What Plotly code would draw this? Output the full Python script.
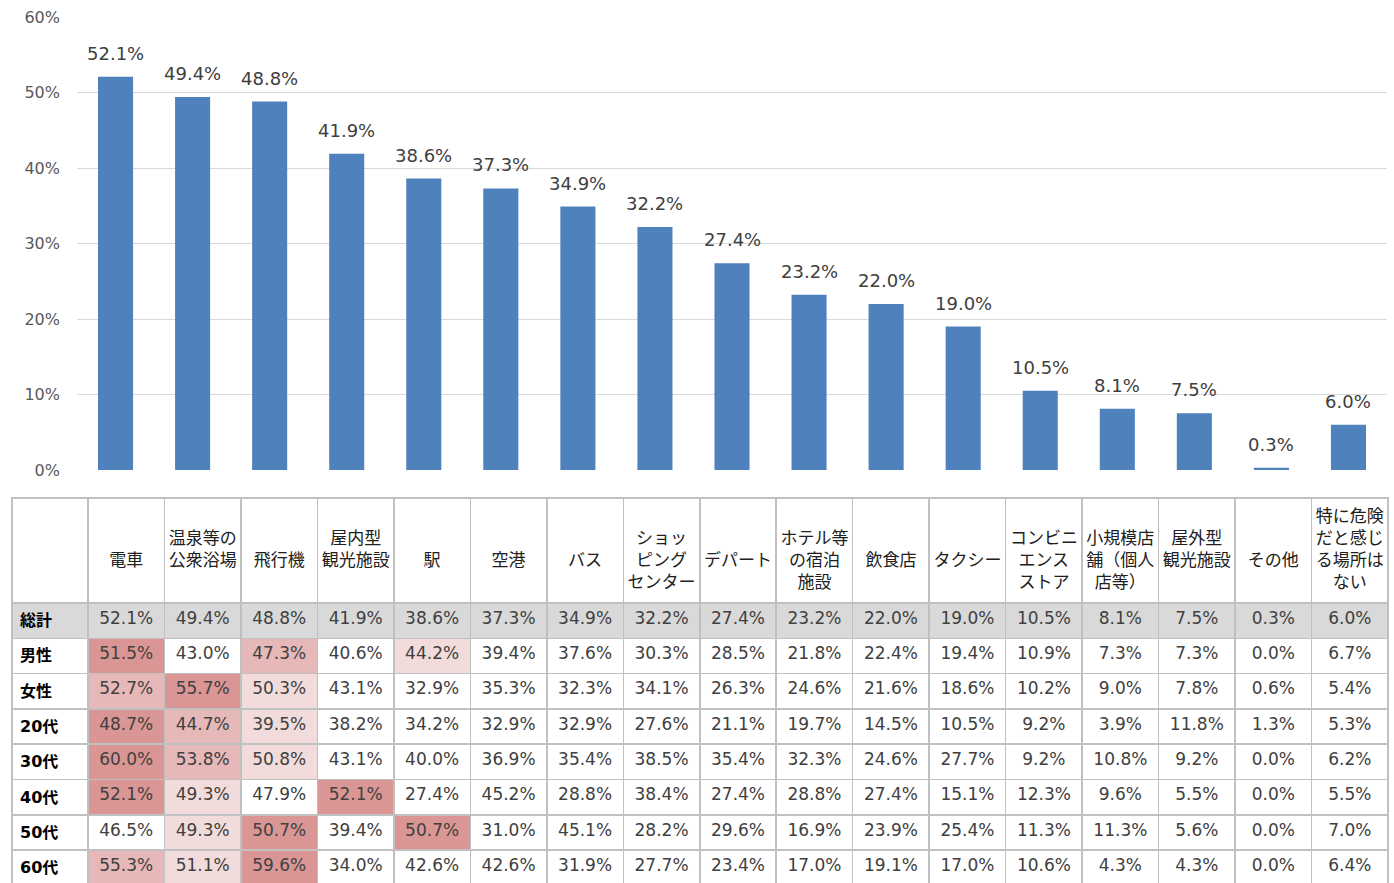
import plotly.graph_objects as go

# ---- data ----
header_lines = [["電車"], ["温泉等の", "公衆浴場"], ["飛行機"], ["屋内型", "観光施設"], ["駅"], ["空港"],
                ["バス"], ["ショッ", "ピング", "センター"], ["デパート"], ["ホテル等", "の宿泊", "施設"],
                ["飲食店"], ["タクシー"], ["コンビニ", "エンス", "ストア"], ["小規模店", "舗（個人", "店等）"],
                ["屋外型", "観光施設"], ["その他"], ["特に危険", "だと感じ", "る場所は", "ない"]]
categories = ["".join(l) for l in header_lines]

total = [52.1, 49.4, 48.8, 41.9, 38.6, 37.3, 34.9, 32.2, 27.4, 23.2, 22.0, 19.0, 10.5, 8.1, 7.5, 0.3, 6.0]

row_labels = ["総計", "男性", "女性", "20代", "30代", "40代", "50代", "60代"]
male = [51.5, 43.0, 47.3, 40.6, 44.2, 39.4, 37.6, 30.3, 28.5, 21.8, 22.4, 19.4, 10.9, 7.3, 7.3, 0.0, 6.7]
female = [52.7, 55.7, 50.3, 43.1, 32.9, 35.3, 32.3, 34.1, 26.3, 24.6, 21.6, 18.6, 10.2, 9.0, 7.8, 0.6, 5.4]
age20 = [48.7, 44.7, 39.5, 38.2, 34.2, 32.9, 32.9, 27.6, 21.1, 19.7, 14.5, 10.5, 9.2, 3.9, 11.8, 1.3, 5.3]
age30 = [60.0, 53.8, 50.8, 43.1, 40.0, 36.9, 35.4, 38.5, 35.4, 32.3, 24.6, 27.7, 9.2, 10.8, 9.2, 0.0, 6.2]
age40 = [52.1, 49.3, 47.9, 52.1, 27.4, 45.2, 28.8, 38.4, 27.4, 28.8, 27.4, 15.1, 12.3, 9.6, 5.5, 0.0, 5.5]
age50 = [46.5, 49.3, 50.7, 39.4, 50.7, 31.0, 45.1, 28.2, 29.6, 16.9, 23.9, 25.4, 11.3, 11.3, 5.6, 0.0, 7.0]
age60 = [55.3, 51.1, 59.6, 34.0, 42.6, 42.6, 31.9, 27.7, 23.4, 17.0, 19.1, 17.0, 10.6, 4.3, 4.3, 0.0, 6.4]

table_rows = [total, male, female, age20, age30, age40, age50, age60]

# ---- styles ----
FONT = "DejaVu Sans, Noto Sans CJK JP, sans-serif"
BAR_COLOR = "#4F81BD"
TOTAL_FILL = "#D9D9D9"
RANK_FILLS = {1: "#DA9694", 2: "#E6B8B7", 3: "#F2DCDB"}
LINE_COLOR = "#C0C0C0"
EN_SPACE = "\u2002"

# per-row highlight of the top 3 values (ties share rank)
def row_fills(vals, is_total):
    if is_total:
        return [TOTAL_FILL] * len(vals)
    out = []
    for v in vals:
        rank = 1 + sum(1 for w in vals if w > v)
        out.append(RANK_FILLS.get(rank, "white"))
    return out

fills_by_row = [row_fills(r, i == 0) for i, r in enumerate(table_rows)]

# header texts: centre each line (table draws lines left-aligned) and pad
# vertically (table text is top aligned)
max_lines = max(len(l) for l in header_lines)
def pad_header(lines):
    width = max(len(s) for s in lines)
    centred = [EN_SPACE * (width - len(s)) + s for s in lines]
    n = (max_lines - len(lines) + 1) // 2
    return "<br>".join([" "] * n + centred)

header_vals = [""] + [pad_header(l) for l in header_lines]

# columns for table
col_values = [[f"<b>{lab}</b>" for lab in row_labels]]
col_fills = [[TOTAL_FILL] + ["white"] * (len(row_labels) - 1)]
col_fontcolors = [["#000000"] * len(row_labels)]
col_fontsizes = [16]
col_align = ["left"] + ["center"] * len(categories)
for j in range(len(categories)):
    col_values.append([f"{r[j]:.1f}%" for r in table_rows])
    col_fills.append([fills_by_row[i][j] for i in range(len(table_rows))])
    col_fontcolors.append(["#404040"] * len(table_rows))
    col_fontsizes.append(17)

fig = go.Figure()

fig.add_trace(go.Bar(
    x=categories, y=total, marker=dict(color=BAR_COLOR, line=dict(width=0)),
    width=0.455, hoverinfo="skip", showlegend=False,
))

for c, v in zip(categories, total):
    fig.add_annotation(x=c, y=v, text=f"{v:.1f}%", showarrow=False, yanchor="bottom",
                       yshift=11, font=dict(family=FONT, size=18, color="#404040"))

fig.add_trace(go.Table(
    domain=dict(x=[12 / 1394, 1388 / 1394], y=[0, 1 - 498 / 883]),
    columnwidth=[76] + [76.47] * len(categories),
    header=dict(values=header_vals, height=105, align="center",
                fill=dict(color="white"), line=dict(color=LINE_COLOR, width=1.5),
                font=dict(family=FONT, size=17, color="#202020")),
    cells=dict(values=col_values, height=35.3, align=col_align,
               fill=dict(color=col_fills), line=dict(color=LINE_COLOR, width=1.5),
               font=dict(family=FONT, size=col_fontsizes, color=col_fontcolors)),
))

fig.update_layout(
    width=1394, height=883, margin=dict(l=0, r=0, t=0, b=0, autoexpand=False),
    paper_bgcolor="white", plot_bgcolor="white",
    font=dict(family=FONT),
    xaxis=dict(domain=[77 / 1394, 1387 / 1394], showticklabels=False, showgrid=False,
               zeroline=False, showline=False, ticks="", automargin=False),
    yaxis=dict(domain=[1 - 470 / 883, 1 - 17 / 883], range=[0, 60], dtick=10, ticksuffix="%",
               showgrid=True, gridcolor="#D9D9D9", gridwidth=1, zeroline=False, showline=False,
               tickfont=dict(family=FONT, size=16, color="#595959"), ticklabelstandoff=16,
               automargin=False),
    bargap=0.545,
)

fig.write_html("out.html", config={"displayModeBar": False},
               post_script="document.body.style.margin='0';")
